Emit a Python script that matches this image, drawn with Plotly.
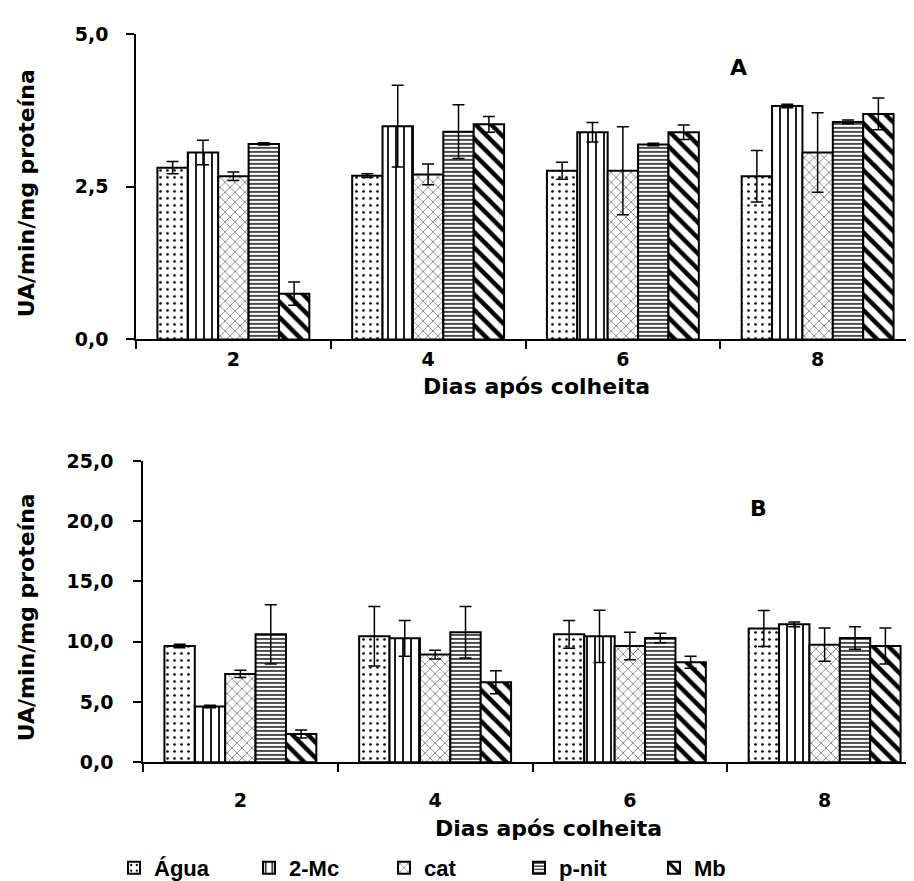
import plotly.graph_objects as go

days = ["2", "4", "6", "8"]
series = ["Água", "2-Mc", "cat", "p-nit", "Mb"]

# Panel A values (UA/min/mg proteína)
a_agua = [2.81, 2.68, 2.76, 2.67]
a_2mc = [3.06, 3.49, 3.39, 3.82]
a_cat = [2.67, 2.70, 2.76, 3.06]
a_pnit = [3.20, 3.40, 3.19, 3.56]
a_mb = [0.75, 3.52, 3.39, 3.69]
a_agua_err = [0.10, 0.03, 0.14, 0.42]
a_2mc_err = [0.20, 0.67, 0.16, 0.03]
a_cat_err = [0.07, 0.17, 0.72, 0.65]
a_pnit_err = [0.02, 0.44, 0.02, 0.03]
a_mb_err = [0.19, 0.13, 0.12, 0.26]

# Panel B values
b_agua = [9.64, 10.45, 10.61, 11.10]
b_2mc = [4.63, 10.28, 10.45, 11.44]
b_cat = [7.33, 8.93, 9.64, 9.75]
b_pnit = [10.61, 10.78, 10.31, 10.31]
b_mb = [2.35, 6.64, 8.30, 9.64]
b_agua_err = [0.15, 2.47, 1.16, 1.50]
b_2mc_err = [0.10, 1.49, 2.17, 0.20]
b_cat_err = [0.30, 0.36, 1.14, 1.38]
b_pnit_err = [2.45, 2.14, 0.40, 0.93]
b_mb_err = [0.33, 0.96, 0.50, 1.49]

a_ticks = [0, 2.5, 5]
a_ticktext = ["0,0", "2,5", "5,0"]
b_ticks = [0, 5, 10, 15, 20, 25]
b_ticktext = ["0,0", "5,0", "10,0", "15,0", "20,0", "25,0"]

patterns = [
    dict(shape=".", size=7, solidity=0.12),
    dict(shape="|", size=8, solidity=0.22),
    dict(shape="x", size=7, solidity=0.12),
    dict(shape="-", size=4, solidity=0.35),
    dict(shape="\\", size=11, solidity=0.4),
]

a_vals = [a_agua, a_2mc, a_cat, a_pnit, a_mb]
a_errs = [a_agua_err, a_2mc_err, a_cat_err, a_pnit_err, a_mb_err]
b_vals = [b_agua, b_2mc, b_cat, b_pnit, b_mb]
b_errs = [b_agua_err, b_2mc_err, b_cat_err, b_pnit_err, b_mb_err]

fig = go.Figure()
for i, name in enumerate(series):
    pat = dict(fgcolor="black", bgcolor="white", fillmode="replace", **patterns[i])
    fig.add_trace(go.Bar(
        x=days, y=a_vals[i], name=name, legendgroup=name, showlegend=True,
        marker=dict(color="white", pattern=pat, line=dict(color="black", width=2)),
        error_y=dict(type="data", array=a_errs[i], color="black", thickness=1.5, width=6),
        xaxis="x", yaxis="y",
    ))
    fig.add_trace(go.Bar(
        x=days, y=b_vals[i], name=name, legendgroup=name, showlegend=False,
        marker=dict(color="white", pattern=pat, line=dict(color="black", width=2)),
        error_y=dict(type="data", array=b_errs[i], color="black", thickness=1.5, width=6),
        xaxis="x2", yaxis="y2",
    ))

W, H = 914, 881
FONT = "DejaVu Sans"
tickfont = dict(family=FONT, size=19, color="black", weight="bold")
axis_common = dict(showline=True, linecolor="black", linewidth=1.5, ticks="outside",
                   tickcolor="black", ticklen=8, tickwidth=1.5, showgrid=False,
                   zeroline=False, automargin=False, tickfont=tickfont)

fig.update_layout(
    template="none",
    width=W, height=H,
    margin=dict(l=0, r=0, t=0, b=0),
    paper_bgcolor="white", plot_bgcolor="white",
    barmode="group", bargap=0.22, bargroupgap=0,
    font=dict(family=FONT, color="black"),
    xaxis=dict(domain=[128 / W, 907 / W], anchor="y", type="category",
               tickson="boundaries", ticklabelstandoff=2, **axis_common),
    yaxis=dict(domain=[1 - 333 / H, 1 - 26 / H], anchor="x", range=[0, 5],
               tickvals=a_ticks, ticktext=a_ticktext, ticklabelstandoff=14, **axis_common),
    xaxis2=dict(domain=[135 / W, 1.0], anchor="y2", type="category",
                tickson="boundaries", ticklabelstandoff=20, **axis_common),
    yaxis2=dict(domain=[1 - 757.7 / H, 1 - 455 / H], anchor="x2", range=[0, 25],
                tickvals=b_ticks, ticktext=b_ticktext, ticklabelstandoff=16, **axis_common),
    legend=dict(orientation="h", x=106 / W, y=1 - 864 / H, xanchor="left", yanchor="middle",
                entrywidth=90, entrywidthmode="pixels", traceorder="normal", itemwidth=30,
                font=dict(family="Liberation Sans", size=22, color="black", weight="bold"),
                bgcolor="rgba(0,0,0,0)"),
)

ann_font = dict(family=FONT, size=22, color="black", weight="bold")
annotations = [
    dict(text="UA/min/mg proteína", x=18 / W, y=1 - 186 / H, textangle=-90),
    dict(text="UA/min/mg proteína", x=18 / W, y=1 - 612 / H, textangle=-90),
    dict(text="Dias após colheita", x=528 / W, y=1 - 380 / H),
    dict(text="Dias após colheita", x=540 / W, y=1 - 824 / H),
    dict(text="A", x=730 / W, y=1 - 60 / H),
    dict(text="B", x=750 / W, y=1 - 503 / H),
]
for a in annotations:
    fig.add_annotation(xref="paper", yref="paper", showarrow=False, font=ann_font,
                       xanchor="center", yanchor="middle", **a)

fig.write_html("out.html")
